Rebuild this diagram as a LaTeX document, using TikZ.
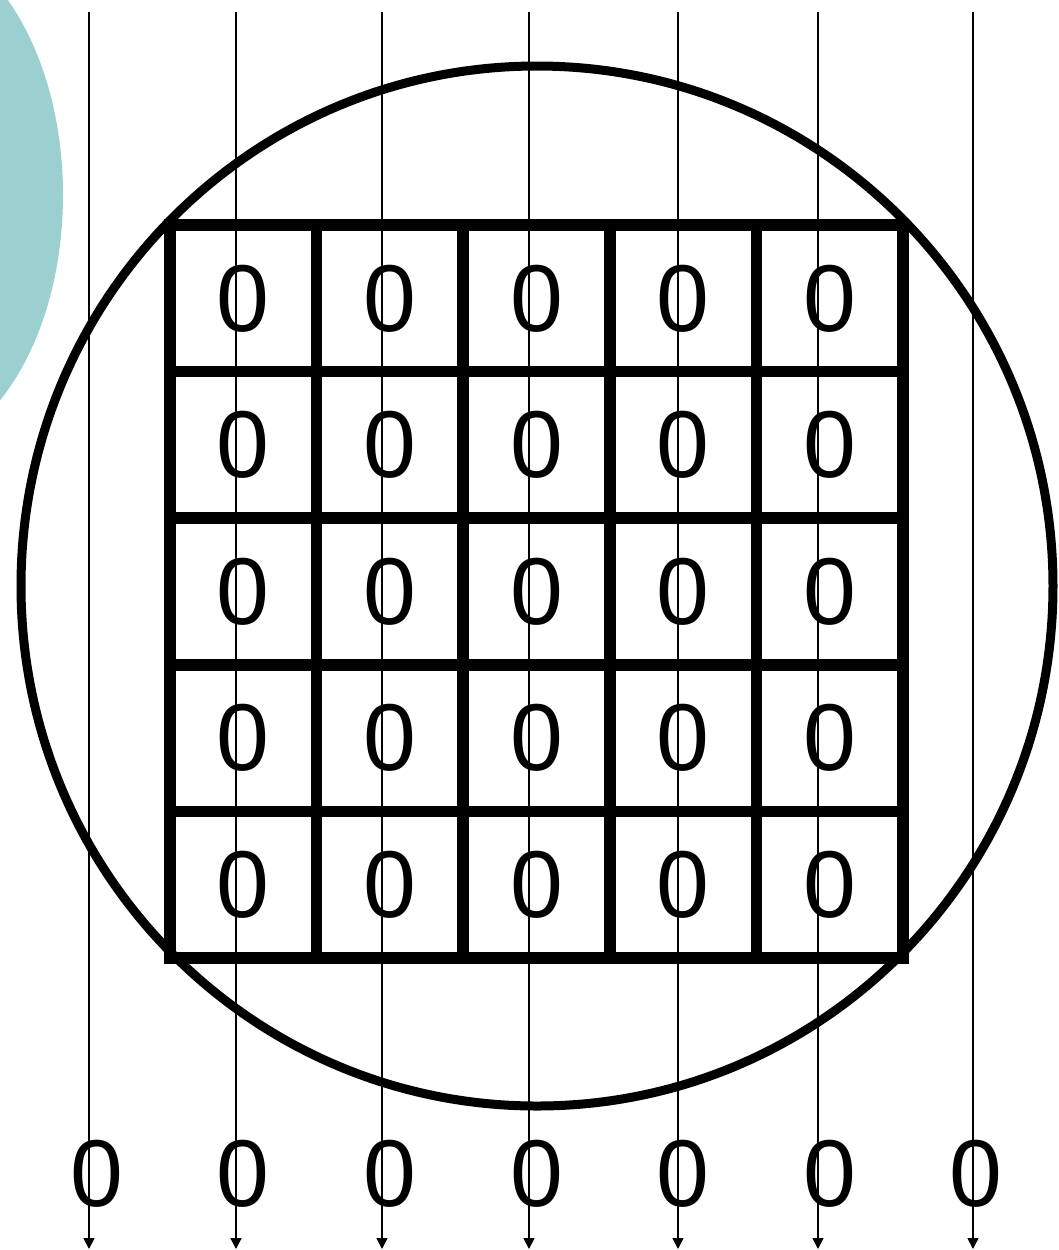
\documentclass[tikz,border=0pt]{standalone}
\usepackage{fontspec}
\setmainfont{Liberation Sans}
\usetikzlibrary{arrows.meta,shapes.geometric}
\definecolor{pteal}{HTML}{9BCFD0}
\newcommand{\zerofont}{\fontsize{47.5}{50}\selectfont}
\tikzset{
  % one square of the 5x5 array, holding its value
  cell/.style  = {rectangle, draw=black, line width=5.8pt, minimum size=73.3pt,
                  inner sep=0pt, font=\zerofont},
  outv/.style  = {inner sep=0pt, font=\zerofont},
  ray/.style   = {-{Triangle[length=5.5pt,width=5.5pt]}, line width=0.8pt, black},
  disc/.style  = {draw=black, line width=4.5pt},
}

\begin{document}
\begin{tikzpicture}[x=0.5pt, y=-0.5pt]
\useasboundingbox (0,0) rectangle (1059,1250);
\fill[pteal] (-100,195) circle[x radius=81.5pt, y radius=130pt];
\node[disc, ellipse, minimum width=516pt, minimum height=520pt, inner sep=0pt] (ring) at (537,586) {};
% the 5x5 grid of zeros
\foreach \r in {1,...,5} {
  \foreach \c in {1,...,5} {
    \node[cell] (c\r\c) at ({170+146.6*(\c-0.5)},{225+146.6*(\r-0.5)}) {0};
  }
}
% values read out below the circle
\foreach \i in {1,...,7} {
  \node[outv] (o\i) at ({170+146.6*(\i-1.5)},1174) {0};
}
% projection rays
\foreach \x [count=\i] in {89,236,382,529,678,818,973} {
  \coordinate (src\i) at (\x,12);
  \coordinate (dst\i) at (\x,1249);
  \draw[ray] (src\i) -- (dst\i);
}
\end{tikzpicture}
\end{document}
